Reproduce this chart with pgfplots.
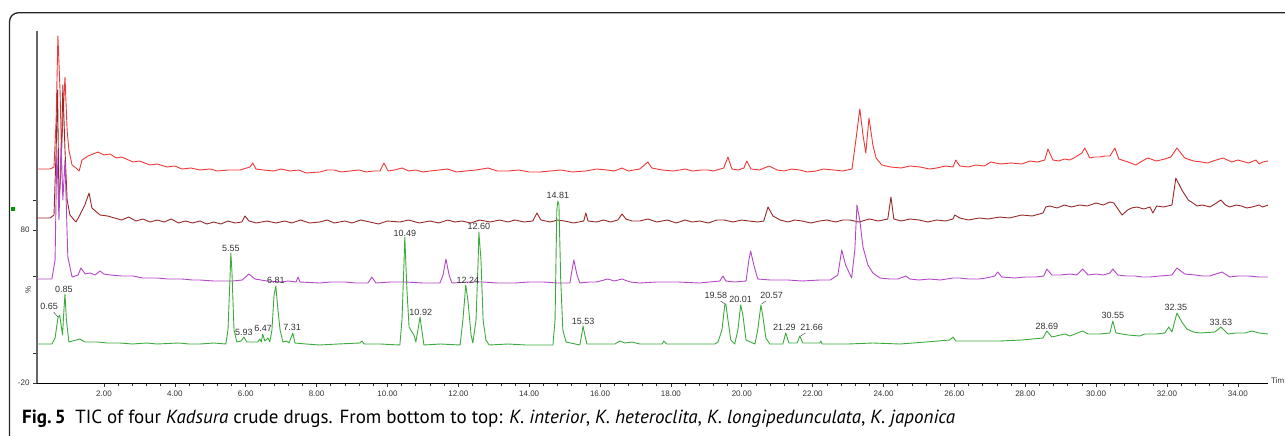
\documentclass[border=0pt]{standalone}
\usepackage{fontspec}
\setmainfont{Liberation Sans}
\newfontfamily\capfont{PT Sans}
\usepackage{pgfplots}
\pgfplotsset{compat=1.18}
\definecolor{cred}{RGB}{240,55,55}
\definecolor{cbrown}{RGB}{150,40,40}
\definecolor{cpurple}{RGB}{180,70,200}
\definecolor{cgreen}{RGB}{60,170,60}
\definecolor{labgray}{RGB}{50,50,50}
\begin{document}
\begin{tikzpicture}
\useasboundingbox (0pt,0pt) rectangle (1285pt,-436pt);
\clip (0pt,0pt) rectangle (1285pt,-436pt);
% frame
\draw[line width=1.3pt, black!85, rounded corners=9pt] (9.5pt,-445pt) -- (9.5pt,-12.7pt) -- (1295pt,-12.7pt);
\fill[green!60!black] (11pt,-207pt) rectangle (15pt,-211pt);
\begin{axis}[
  at={(37pt,-383pt)}, anchor=south west,
  scale only axis, width=1231pt, height=352pt,
  xmin=0.11, xmax=34.85, ymin=0, ymax=352,
  axis x line*=bottom, axis y line*=left,
  x axis line style={black, line width=1pt},
  y axis line style={black!60, line width=1.2pt},
  xtick={2,4,...,34},
  minor x tick num=4,
  tick align=outside,
  major tick length=4pt, minor tick length=2.5pt,
  tick style={black!80, line width=0.6pt},
  ytick={0,30,107,153,183},
  yticklabels={-20,,,80,},
  /pgf/number format/assume math mode=true,
  xticklabel style={font=\fontsize{8}{9}\selectfont, text=labgray, yshift=0pt},
  yticklabel style={font=\fontsize{8}{9}\selectfont, text=labgray},
  xticklabel={\pgfmathprintnumber[fixed,fixed zerofill,precision=2]{\tick}},
  every axis plot/.append style={line width=0.9pt, no markers, line join=round},
]
% top: red
\addplot[cred] coordinates {
(0.11,214)(0.48,214)(0.59,216)(0.65,263)(0.70,347)(0.76,293)(0.80,233)(0.84,263)(0.90,306)(0.96,253)(1.01,233)(1.10,218)(1.21,215)(1.30,212)(1.38,223)(1.55,227)(1.83,231)(2.0,228)(2.17,229)(2.35,225)(2.5,226)(2.82,221)(3.0,222)(3.3,218)(3.5,219)(3.78,216)(4.0,217)(4.2,214)(4.45,215)(4.71,213)(5.0,214)(5.2,212)(5.5,213)(5.84,213)(6.12,216)(6.20,220)(6.29,214)(6.5,213)(6.8,212)(7.0,214)(7.25,212)(7.5,213)(7.7,210)(8.09,211)(8.3,213)(8.5,213)(8.7,211)(8.94,212)(9.2,213)(9.4,211)(9.6,212)(9.79,212)(9.90,220)(10.02,212)(10.2,213)(10.41,215)(10.6,212)(10.8,213)(11.0,211)(11.20,212)(11.45,213)(11.7,214)(11.95,211)(12.2,212)(12.5,213)(12.84,215)(13.1,212)(13.4,212)(13.7,213)(14.0,211)(14.30,211)(14.6,212)(14.9,213)(15.2,211)(15.6,212)(15.9,214)(16.2,213)(16.4,212)(16.62,215)(16.8,212)(17.12,214)(17.35,221)(17.46,215)(17.75,213)(18.06,212)(18.25,213)(18.4,214)(18.6,212)(18.87,213)(19.05,213)(19.2,212)(19.49,215)(19.61,226)(19.72,214)(19.9,213)(20.06,215)(20.14,222)(20.26,214)(20.5,213)(20.77,217)(21.0,213)(21.2,212)(21.4,214)(21.64,213)(21.85,211)(22.1,212)(22.3,214)(22.6,213)(22.85,212)(23.11,214)(23.22,243)(23.33,274)(23.42,248)(23.50,230)(23.59,265)(23.70,238)(23.79,225)(23.95,218)(24.2,216)(24.5,215)(24.75,217)(25.03,216)(25.3,214)(25.5,215)(25.75,217)(25.96,216)(26.04,223)(26.15,217)(26.4,216)(26.6,218)(26.85,217)(27.03,221)(27.3,219)(27.6,220)(27.9,219)(28.13,222)(28.35,221)(28.55,223)(28.64,234)(28.78,223)(28.95,222)(29.1,224)(29.25,223)(29.37,225)(29.60,230)(29.68,235)(29.82,225)(29.95,226)(30.1,226)(30.25,227)(30.39,227)(30.53,235)(30.64,224)(30.9,221)(31.12,218)(31.30,222)(31.46,225)(31.7,222)(31.94,224)(32.11,226)(32.28,235)(32.50,225)(32.75,222)(32.98,221)(33.15,220)(33.3,222)(33.58,225)(33.83,221)(34.0,223)(34.1,222)(34.3,220)(34.51,223)(34.6,219)(34.7,221)(34.85,222)
};
% second: brown
\addplot[cbrown] coordinates {
(0.11,165)(0.48,165)(0.59,168)(0.65,233)(0.69,293)(0.73,183)(0.79,213)(0.84,298)(0.90,233)(0.96,183)(1.04,168)(1.21,161)(1.32,168)(1.46,178)(1.58,190)(1.66,175)(1.89,168)(2.1,167)(2.3,165)(2.5,163)(2.7,166)(2.9,162)(3.1,164)(3.3,161)(3.5,163)(3.7,161)(3.9,164)(4.1,160)(4.3,162)(4.5,160)(4.71,162)(4.9,159)(5.1,161)(5.3,159)(5.5,162)(5.7,160)(5.89,161)(5.98,167)(6.09,162)(6.3,160)(6.6,162)(6.85,160)(7.1,162)(7.3,160)(7.55,163)(7.8,160)(8.09,161)(8.3,163)(8.5,160)(8.8,162)(9.0,160)(9.25,163)(9.5,161)(9.75,159)(10.0,162)(10.35,161)(10.6,163)(10.9,160)(11.2,162)(11.45,160)(11.7,163)(11.9,161)(12.1,162)(12.35,160)(12.6,163)(12.9,161)(13.17,163)(13.4,161)(13.6,163)(13.85,161)(14.10,162)(14.22,170)(14.33,163)(14.6,161)(14.8,163)(15.0,162)(15.25,160)(15.54,162)(15.6,170)(15.66,162)(15.9,161)(16.1,163)(16.30,161)(16.50,163)(16.62,169)(16.73,164)(16.9,162)(17.12,162)(17.35,164)(17.6,161)(17.9,163)(18.15,160)(18.4,163)(18.6,161)(18.82,162)(19.05,160)(19.3,163)(19.5,163)(19.75,161)(20.0,163)(20.2,162)(20.45,161)(20.62,162)(20.74,176)(20.88,167)(21.08,163)(21.3,161)(21.5,163)(21.7,162)(21.95,160)(22.2,162)(22.4,163)(22.65,161)(22.85,163)(23.05,163)(23.3,161)(23.6,164)(23.85,162)(24.12,164)(24.21,186)(24.29,164)(24.5,162)(24.75,164)(25.0,163)(25.25,161)(25.5,163)(25.75,162)(25.96,164)(26.01,168)(26.15,165)(26.4,163)(26.7,165)(26.95,164)(27.28,166)(27.55,165)(27.9,168)(28.2,167)(28.50,170)(28.58,176)(28.69,177)(28.9,175)(29.1,178)(29.3,176)(29.54,178)(29.75,177)(30.0,180)(30.2,178)(30.39,181)(30.50,180)(30.73,168)(30.89,173)(31.0,175)(31.15,176)(31.35,174)(31.52,176)(31.60,170)(31.71,177)(31.9,176)(32.14,178)(32.25,205)(32.42,193)(32.6,183)(32.73,180)(32.85,177)(33.0,178)(33.21,176)(33.35,179)(33.52,183)(33.65,178)(33.77,176)(33.95,178)(34.1,177)(34.25,175)(34.4,176)(34.6,178)(34.7,176)(34.85,178)
};
% third: purple
\addplot[cpurple] coordinates {
(0.11,104)(0.53,104)(0.62,123)(0.67,233)(0.73,163)(0.79,240)(0.84,183)(0.90,223)(0.98,126)(1.10,106)(1.27,108)(1.35,115)(1.47,109)(1.61,110)(1.75,108)(1.89,112)(2.0,109)(2.17,108)(2.5,107)(2.82,107)(3.1,105)(3.5,105)(3.8,104)(4.2,104)(4.5,103)(4.71,103)(5.1,102)(5.64,102)(5.9,103)(6.09,109)(6.26,104)(6.60,102)(7.0,101)(7.2,102)(7.42,101)(7.48,106)(7.53,101)(8.09,100)(8.4,101)(8.8,101)(9.1,100)(9.45,100)(9.56,106)(9.67,100)(10.1,101)(10.5,101)(11.0,100)(11.48,100)(11.57,108)(11.65,124)(11.74,108)(11.82,100)(12.3,101)(12.7,101)(13.1,100)(13.6,100)(14.0,101)(14.4,101)(14.8,100)(15.15,100)(15.20,111)(15.26,123)(15.35,108)(15.43,100)(15.7,101)(15.9,101)(16.22,104)(16.4,102)(16.62,104)(16.85,101)(17.12,100)(17.6,101)(18.2,101)(18.8,100)(19.38,102)(19.47,107)(19.55,102)(19.8,101)(20.12,102)(20.20,123)(20.25,132)(20.34,118)(20.45,104)(20.8,103)(21.3,103)(21.7,102)(22.20,103)(22.5,103)(22.71,108)(22.82,133)(22.93,118)(23.10,105)(23.19,133)(23.25,178)(23.33,163)(23.42,136)(23.56,118)(23.70,110)(23.90,105)(24.18,104)(24.4,104)(24.63,107)(24.74,104)(25.0,103)(25.3,104)(25.6,103)(25.96,105)(26.15,105)(26.4,104)(26.7,104)(26.9,105)(27.14,107)(27.22,111)(27.34,106)(27.7,105)(28.0,106)(28.3,106)(28.52,107)(28.61,114)(28.75,108)(29.0,108)(29.26,109)(29.45,108)(29.62,114)(29.77,108)(30.0,109)(30.2,108)(30.39,110)(30.47,114)(30.61,108)(30.85,107)(31.1,107)(31.3,106)(31.52,106)(31.8,107)(32.14,108)(32.28,115)(32.50,109)(32.8,108)(33.0,107)(33.21,107)(33.55,111)(33.77,106)(34.0,107)(34.3,107)(34.6,106)(34.85,106)
};
% bottom: green
\addplot[cgreen] coordinates {
(0.11,39)(0.53,39)(0.62,45)(0.70,65)(0.75,68)(0.79,58)(0.83,48)(0.87,73)(0.90,89)(0.94,63)(1.01,41)(1.32,44)(1.46,41)(1.8,41)(2.1,40)(2.45,40)(2.8,39)(3.2,40)(3.5,39)(4.1,40)(4.4,39)(4.71,39)(5.1,40)(5.44,39)(5.50,53)(5.56,108)(5.58,130)(5.61,113)(5.67,53)(5.75,41)(5.87,42)(5.95,46)(6.03,41)(6.34,41)(6.40,44)(6.44,41)(6.48,49)(6.54,42)(6.63,45)(6.68,41)(6.74,53)(6.80,88)(6.85,97)(6.91,73)(6.97,53)(7.05,41)(7.16,42)(7.22,40)(7.31,48)(7.33,50)(7.39,40)(7.7,39)(8.09,38)(8.6,39)(9.22,40)(9.28,42)(9.34,39)(9.8,39)(10.35,38)(10.41,63)(10.47,123)(10.49,146)(10.55,93)(10.61,56)(10.69,51)(10.75,48)(10.80,41)(10.86,53)(10.92,66)(10.97,53)(11.03,38)(11.5,39)(12.05,38)(12.13,63)(12.21,98)(12.27,83)(12.36,48)(12.41,40)(12.50,63)(12.56,123)(12.58,151)(12.64,123)(12.70,63)(12.78,43)(12.87,38)(13.4,39)(13.9,38)(14.30,38)(14.67,38)(14.73,63)(14.78,173)(14.81,182)(14.84,178)(14.89,103)(14.95,53)(15.04,41)(15.43,38)(15.49,50)(15.52,57)(15.57,48)(15.63,39)(16.0,39)(16.42,39)(16.56,42)(16.7,40)(16.9,41)(17.12,39)(17.75,39)(17.80,42)(17.88,39)(18.5,39)(19.24,39)(19.33,41)(19.44,53)(19.52,78)(19.55,79)(19.61,63)(19.69,43)(19.80,39)(19.89,53)(19.97,78)(20.03,68)(20.12,43)(20.37,39)(20.45,53)(20.54,78)(20.59,68)(20.68,45)(20.79,39)(21.16,39)(21.24,50)(21.33,40)(21.56,40)(21.64,47)(21.72,40)(22.20,40)(22.23,42)(22.27,39)(23.0,39)(23.7,40)(24.46,39)(25.2,41)(25.87,43)(25.96,46)(26.04,42)(26.6,42)(27.28,42)(27.9,43)(28.50,45)(28.61,52)(28.75,46)(29.12,49)(29.26,47)(29.62,52)(29.77,49)(30.1,49)(30.39,50)(30.47,62)(30.56,50)(30.9,48)(31.23,47)(31.37,49)(31.7,49)(31.94,50)(32.05,56)(32.14,51)(32.28,70)(32.42,61)(32.56,54)(32.75,51)(32.93,50)(33.35,51)(33.52,56)(33.72,49)(33.95,50)(34.20,50)(34.39,52)(34.6,50)(34.85,49)
};
% peak labels
\begin{scope}[every node/.style={font=\fontsize{9}{10}\selectfont, text=labgray, inner sep=0pt}]
\node at (axis cs:0.45,77) {0.65};
\draw[labgray, line width=0.4pt] (axis cs:0.58,71) -- (axis cs:0.70,66);
\node at (axis cs:0.87,94) {0.85};
\node at (axis cs:5.58,135) {5.55};
\node at (axis cs:5.95,51) {5.93};
\node at (axis cs:6.49,55) {6.47};
\node at (axis cs:6.85,103) {6.81};
\node at (axis cs:7.31,56) {7.31};
\node at (axis cs:10.49,150) {10.49};
\node at (axis cs:10.94,71) {10.92};
\node at (axis cs:12.27,103) {12.24};
\node at (axis cs:12.58,157) {12.60};
\node at (axis cs:14.81,188) {14.81};
\node at (axis cs:15.52,62) {15.53};
\node at (axis cs:19.27,88) {19.58};
\draw[labgray, line width=0.4pt] (axis cs:19.40,82) -- (axis cs:19.53,79);
\node at (axis cs:19.97,84) {20.01};
\node at (axis cs:20.84,88) {20.57};
\draw[labgray, line width=0.4pt] (axis cs:20.68,82) -- (axis cs:20.56,79);
\node at (axis cs:21.20,56) {21.29};
\node at (axis cs:21.97,56) {21.66};
\draw[labgray, line width=0.4pt] (axis cs:21.80,50) -- (axis cs:21.66,47);
\node at (axis cs:28.61,57) {28.69};
\node at (axis cs:30.47,68) {30.55};
\node at (axis cs:32.25,76) {32.35};
\node at (axis cs:33.52,61) {33.63};
\end{scope}
\end{axis}
\node[rotate=90, font=\fontsize{8}{9}\selectfont, text=labgray] at (28pt,-290pt) {\%};
\node[anchor=west, font=\fontsize{8}{9}\selectfont, text=labgray, inner sep=0pt] at (1271pt,-381pt) {Tim};
\node[anchor=base west, inner sep=0pt, font=\capfont\fontsize{19}{22}\selectfont] at (22pt,-423pt)
 {\textbf{Fig.\,5}\enspace TIC of four \textit{Kadsura} crude drugs. From bottom to top: \textit{K. interior}, \textit{K. heteroclita}, \textit{K. longipedunculata}, \textit{K. japonica}};
\end{tikzpicture}
\end{document}
